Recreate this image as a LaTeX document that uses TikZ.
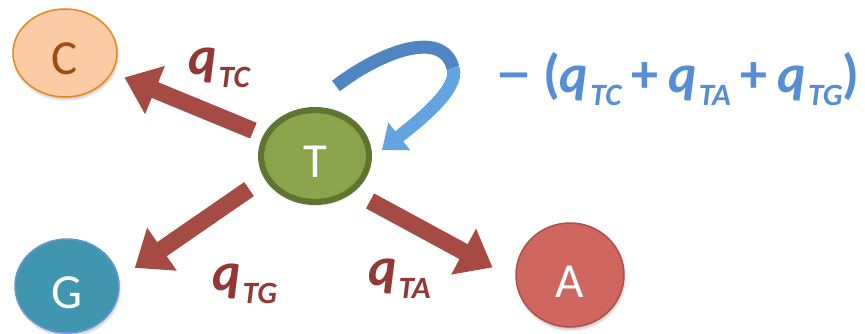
\documentclass[tikz,border=0pt]{standalone}
\usepackage{fontspec}
\setmainfont{Carlito}
\usetikzlibrary{arrows.meta,shapes.geometric,shadows.blur}
\definecolor{cfill}{HTML}{FBCBA6}
\definecolor{cline}{HTML}{E9861A}
\definecolor{ctext}{HTML}{9E4C14}
\definecolor{tfill}{HTML}{8BA34A}
\definecolor{tline}{HTML}{5E7431}
\definecolor{gfill}{HTML}{3F96AE}
\definecolor{gline}{HTML}{6A93D6}
\definecolor{afill}{HTML}{CF6660}
\definecolor{aline}{HTML}{B04F4A}
\definecolor{redarrow}{HTML}{A64B43}
\definecolor{redlabel}{HTML}{953735}
\definecolor{bluelabel}{HTML}{558ED5}
\definecolor{bluedark}{HTML}{4F85C0}
\definecolor{bluelight}{HTML}{62A3E0}
\newcommand{\qsub}[1]{{\itshape q\hspace{2pt}\raisebox{-13pt}{\fontsize{31}{31}\selectfont #1}}}
\tikzset{
  basenode/.style={ellipse, inner sep=0pt, text height=44pt, text depth=0pt,
    font=\fontsize{49}{54}\selectfont,
    blur shadow={shadow xshift=1pt, shadow yshift=-3pt, shadow opacity=20, shadow blur steps=6}},
  redflow/.style={draw=redarrow, line width=17pt, -{Triangle[length=33pt,width=50pt]}},
  qlabel/.style={anchor=base west, inner sep=0pt, text=redlabel,
    font=\fontsize{54}{60}\selectfont\bfseries},
}
\begin{document}
\begin{tikzpicture}[x=1pt,y=-1pt]
\useasboundingbox (0,0) rectangle (865,334);
% nodes
\node[basenode, fill=cfill, draw=cline, line width=1.5pt, minimum width=104pt, minimum height=88pt, text=ctext] (C) at (65,53) {C};
\node[basenode, fill=tfill, draw=tline, line width=6pt, minimum width=108pt, minimum height=92pt, text=white] (T) at (315,156) {T};
\node[basenode, fill=gfill, draw=gline, line width=1.5pt, minimum width=104pt, minimum height=94pt, text=white] (G) at (67,286) {G};
\node[basenode, fill=afill, draw=aline, line width=1.5pt, minimum width=108pt, minimum height=104pt, text=white] (A) at (570,275) {A};
% red arrows
\draw[redflow, shorten <=11pt, shorten >=13pt] (T) -- (C);
\draw[redflow, shorten <=18.6pt, shorten >=19pt] (T.204) -- (G.8);
\draw[redflow, shorten <=18.7pt, shorten >=26pt] (T.317) -- (A.185);
% blue self loop
\coordinate (loopstart) at (336,86);
\coordinate (loopmid) at (453,68);
\coordinate (looptip) at (382,150);
\draw[bluedark, line width=13pt] (loopstart) .. controls (380,52) and (443,28) .. (loopmid);
\draw[bluelight, line width=13pt, -{Triangle[length=22pt,width=34pt]}] (loopmid) .. controls (460,88) and (420,120) .. (looptip);
% labels
\node[qlabel] (lTC) at (188,75) {\qsub{TC}};
\node[qlabel] (lTG) at (212,290) {\qsub{TG}};
\node[qlabel] (lTA) at (368,285) {\qsub{TA}};
\node[qlabel, text=bluelabel] (lsum) at (496,93) {\scalebox{1.3}[1]{−}\hspace{12pt}(\qsub{TC}\hspace{10pt}+\hspace{10pt}\qsub{TA}\hspace{10pt}+\hspace{10pt}\qsub{TG})};
\end{tikzpicture}
\end{document}
